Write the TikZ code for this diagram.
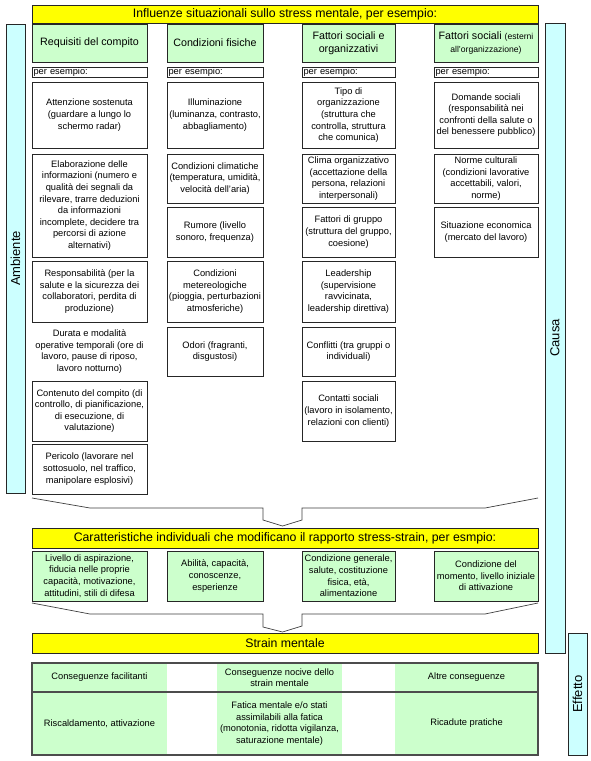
\documentclass[tikz,border=0pt]{standalone}
\usepackage{fontspec}
\setmainfont{Liberation Sans}
\definecolor{ylw}{HTML}{FFFF00}
\definecolor{grn}{HTML}{CCFFCC}
\definecolor{blu}{HTML}{CCFFFF}
\newcommand\bx[7]{\node[#6, minimum width={(#4-#2)*1pt}, minimum height={(#5-#3)*1pt}] (#1) at ({(#2+#4)/2},{(#3+#5)/2}) {#7};}
\tikzset{
 base/.style={inner sep=0pt, outer sep=0pt, align=center, font=\fontsize{9.3}{11.6}\selectfont},
 wbox/.style={base, draw=black!85, line width=0.8pt, fill=white},
 gbox/.style={wbox, fill=grn},
 hdr/.style={gbox, font=\fontsize{10.7}{13}\selectfont},
 ybar/.style={base, draw=black!85, line width=0.8pt, fill=ylw, font=\fontsize{12.3}{14}\selectfont},
 sbar/.style={base, draw=black!85, line width=0.8pt, fill=blu, rotate=90, font=\fontsize{13}{15}\selectfont},
 pe/.style={wbox, align=left, inner xsep=1.5pt, text width=#1},
 cell/.style={base, fill=grn},
 frame/.style={base, draw=black!70, line width=1.3pt},
 chev/.style={draw=black!75, line width=0.7pt},
}
\begin{document}
\begin{tikzpicture}[x=1pt,y=-1pt]
\useasboundingbox[fill=white] (0,0) rectangle (591,761);
% side bars
\node[sbar, minimum width=469pt, minimum height=19pt] (amb) at (15.5,258.5) {Ambiente};
\node[sbar, minimum width=630pt, minimum height=20pt] (cau) at (555,338) {Causa};
\node[sbar, minimum width=122pt, minimum height=19pt] (eff) at (577.5,694) {Effetto};
% top title
\bx{t0}{32}{5}{538}{23}{ybar}{Influenze situazionali sullo stress mentale, per esempio:}
% headers
\bx{h1}{32}{24}{147}{62}{hdr}{Requisiti del compito}
\bx{h2}{167}{24}{263}{62}{hdr}{Condizioni fisiche}
\bx{h3}{302}{24}{395}{62}{hdr}{Fattori sociali e\\organizzativi}
\bx{h4}{434}{24}{538}{62}{hdr}{Fattori sociali {\fontsize{8.6}{10.5}\selectfont(esterni}\\{\fontsize{8.6}{10.5}\selectfont all'organizzazione)}}
% per esempio
\bx{p1}{32}{67}{147}{77}{pe=112pt}{per esempio:}
\bx{p2}{167}{67}{263}{77}{pe=93pt}{per esempio:}
\bx{p3}{302}{67}{395}{77}{pe=90pt}{per esempio:}
\bx{p4}{434}{67}{538}{77}{pe=101pt}{per esempio:}
% column 1
\bx{a1}{32}{82}{147}{148}{wbox}{Attenzione sostenuta\\(guardare a lungo lo\\schermo radar)}
\bx{a2}{32}{154}{147}{257}{wbox}{Elaborazione delle\\informazioni (numero e\\qualità dei segnali da\\rilevare, trarre deduzioni\\da informazioni\\incomplete, decidere tra\\percorsi di azione\\alternativi)}
\bx{a3}{32}{261}{147}{322}{wbox}{Responsabilità (per la\\salute e la sicurezza dei\\collaboratori, perdita di\\produzione)}
\bx{a4}{32}{327}{147}{376}{base}{Durata e modalità\\operative temporali (ore di\\lavoro, pause di riposo,\\lavoro notturno)}
\bx{a5}{32}{381}{147}{441}{wbox}{Contenuto del compito (di\\controllo, di pianificazione,\\di esecuzione, di\\valutazione)}
\bx{a6}{32}{444}{147}{494}{wbox}{Pericolo (lavorare nel\\sottosuolo, nel traffico,\\manipolare esplosivi)}
% column 2
\bx{b1}{167}{82}{263}{148}{wbox}{Illuminazione\\(luminanza, contrasto,\\abbagliamento)}
\bx{b2}{167}{154}{263}{203}{wbox}{Condizioni climatiche\\(temperatura, umidità,\\velocità dell'aria)}
\bx{b3}{167}{207}{263}{257}{wbox}{Rumore (livello\\sonoro, frequenza)}
\bx{b4}{167}{261}{263}{322}{wbox}{Condizioni\\metereologiche\\(pioggia, perturbazioni\\atmosferiche)}
\bx{b5}{167}{327}{263}{376}{wbox}{Odori (fragranti,\\disgustosi)}
% column 3
\bx{c1}{302}{82}{395}{148}{wbox}{Tipo di\\organizzazione\\(struttura che\\controlla, struttura\\che comunica)}
\bx{c2}{302}{154}{395}{203}{wbox}{Clima organizzativo\\(accettazione della\\persona, relazioni\\interpersonali)}
\bx{c3}{302}{207}{395}{257}{wbox}{Fattori di gruppo\\(struttura del gruppo,\\coesione)}
\bx{c4}{302}{261}{395}{322}{wbox}{Leadership\\(supervisione\\ravvicinata,\\leadership direttiva)}
\bx{c5}{302}{327}{395}{376}{wbox}{Conflitti (tra gruppi o\\individuali)}
\bx{c6}{302}{381}{395}{441}{wbox}{Contatti sociali\\(lavoro in isolamento,\\relazioni con clienti)}
% column 4
\bx{d1}{434}{82}{538}{148}{wbox}{Domande sociali\\(responsabilità nei\\confronti della salute o\\del benessere pubblico)}
\bx{d2}{434}{154}{538}{203}{wbox}{Norme culturali\\(condizioni lavorative\\accettabili, valori,\\norme)}
\bx{d3}{434}{207}{538}{257}{wbox}{Situazione economica\\(mercato del lavoro)}
% chevron 1
\draw[chev] (32,498) -- (90,508) -- (263,508) -- (263,520) -- (282.5,526) -- (302,520) -- (302,508) -- (485,508) -- (538,498);
% middle title
\bx{t1}{32}{528}{538}{548}{ybar}{Caratteristiche individuali che modificano il rapporto stress-strain, per esmpio:}
\bx{m1}{32}{551}{147}{601}{gbox}{Livello di aspirazione,\\fiducia nelle proprie\\capacità, motivazione,\\attitudini, stili di difesa}
\bx{m2}{167}{551}{263}{601}{gbox}{Abilità, capacità,\\conoscenze,\\esperienze}
\bx{m3}{302}{551}{395}{601}{gbox}{Condizione generale,\\salute, costituzione\\fisica, età,\\alimentazione}
\bx{m4}{434}{551}{538}{601}{gbox}{Condizione del\\momento, livello iniziale\\di attivazione}
% chevron 2
\draw[chev] (32,603) -- (90,614) -- (263,614) -- (263,627) -- (282.5,632) -- (302,626) -- (302,614) -- (485,614) -- (538,603);
% strain
\bx{t2}{32}{633}{538}{653}{ybar}{Strain mentale}
% table
\bx{e1}{32}{663}{167}{692}{cell}{Conseguenze facilitanti}
\bx{e2}{217}{663}{342}{692}{cell}{Conseguenze nocive dello\\strain mentale}
\bx{e3}{395}{663}{538}{692}{cell}{Altre conseguenze}
\bx{f1}{32}{692}{167}{755}{cell}{Riscaldamento, attivazione}
\bx{f2}{217}{692}{342}{755}{cell}{Fatica mentale e/o stati\\assimilabili alla fatica\\(monotonia, ridotta vigilanza,\\saturazione mentale)}
\bx{f3}{395}{692}{538}{755}{cell}{Ricadute pratiche}
\bx{tab}{32}{663}{538}{755}{frame}{}
\draw[draw=black!70, line width=1.3pt] (tab.west |- e1.south) -- (tab.east |- e1.south);
\end{tikzpicture}
\end{document}
